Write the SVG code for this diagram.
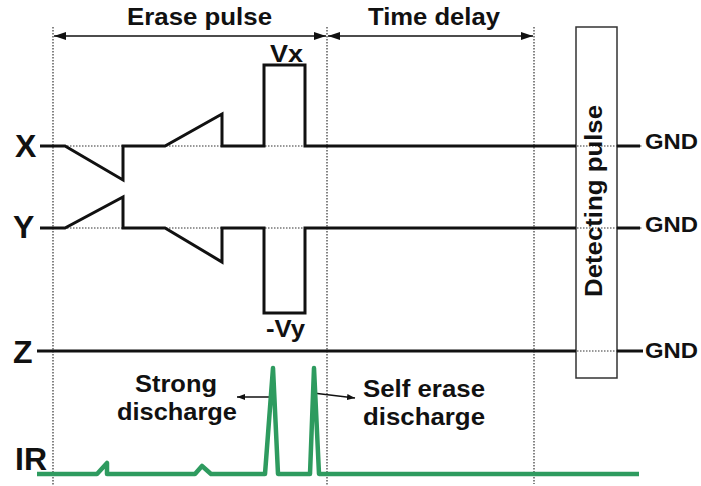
<svg xmlns="http://www.w3.org/2000/svg" width="701" height="486" viewBox="0 0 701 486">
<defs>
<style>
text{font-family:"Liberation Sans",Arial,sans-serif;font-weight:bold;fill:#111}
.big{font-size:32px}
.lab{font-size:24px}
.gnd{font-size:22px}
.dot{stroke:#333;stroke-width:1.2;stroke-dasharray:1.5 1.5;fill:none}
.wave{stroke:#111;stroke-width:3;fill:none;stroke-linejoin:miter}
.ir{stroke:#2e9b5f;stroke-width:4.5;fill:none;stroke-linejoin:round}
.arr{stroke:#111;stroke-width:1.6;fill:none}
</style>
<marker id="ah" viewBox="0 0 12 8" refX="12" refY="4" markerWidth="12" markerHeight="8" markerUnits="userSpaceOnUse" orient="auto-start-reverse">
<path d="M0,0 L12,4 L0,8 Z" fill="#111"/>
</marker>
<marker id="sh" viewBox="0 0 8 6" refX="8" refY="3" markerWidth="8" markerHeight="6" markerUnits="userSpaceOnUse" orient="auto">
<path d="M0,0 L8,3 L0,6 Z" fill="#111"/>
</marker>
</defs>
<rect width="701" height="486" fill="#fff"/>

<g id="guides">
<line class="dot" x1="53" y1="27" x2="53" y2="486"/>
<line class="dot" x1="327" y1="27" x2="327" y2="486"/>
<line class="dot" x1="534" y1="27" x2="534" y2="484"/>
<line class="dot" x1="40" y1="146" x2="642" y2="146"/>
<line class="dot" x1="40" y1="228" x2="642" y2="228"/>
<line class="dot" x1="37" y1="351" x2="643" y2="351"/>
</g>

<g id="detecting-pulse">
<rect x="576" y="27" width="41" height="351" fill="none" stroke="#333" stroke-width="1.5"/>
<text class="lab" transform="translate(602,201) rotate(-90)" text-anchor="middle" textLength="192" lengthAdjust="spacingAndGlyphs">Detecting pulse</text>
</g>

<g id="connectors">
<line class="arr" x1="54" y1="36" x2="326" y2="36" marker-start="url(#ah)" marker-end="url(#ah)"/>
<line class="arr" x1="328" y1="36" x2="533" y2="36" marker-start="url(#ah)" marker-end="url(#ah)"/>
<line class="arr" x1="273" y1="397" x2="237" y2="397" stroke-width="1.4" marker-end="url(#sh)"/>
<line class="arr" x1="313" y1="393" x2="355" y2="398" stroke-width="1.4" marker-end="url(#sh)"/>
</g>

<g id="labels">
<text class="lab" x="127" y="25" textLength="145" lengthAdjust="spacingAndGlyphs">Erase pulse</text>
<text class="lab" x="368" y="25" textLength="132" lengthAdjust="spacingAndGlyphs">Time delay</text>
<text class="lab" x="270" y="62" textLength="33" lengthAdjust="spacingAndGlyphs">Vx</text>
<text class="lab" x="266" y="337" textLength="39" lengthAdjust="spacingAndGlyphs">-Vy</text>
<text class="big" x="15" y="157">X</text>
<text class="big" x="13" y="238">Y</text>
<text class="big" x="13" y="363">Z</text>
<text class="big" x="15" y="470">IR</text>
<text class="gnd" x="645" y="149" textLength="53" lengthAdjust="spacingAndGlyphs">GND</text>
<text class="gnd" x="645" y="232" textLength="53" lengthAdjust="spacingAndGlyphs">GND</text>
<text class="gnd" x="645" y="358" textLength="53" lengthAdjust="spacingAndGlyphs">GND</text>
<text class="lab" x="176" y="392" text-anchor="middle" textLength="82" lengthAdjust="spacingAndGlyphs">Strong</text>
<text class="lab" x="177" y="420" text-anchor="middle" textLength="120" lengthAdjust="spacingAndGlyphs">discharge</text>
<text class="lab" x="363" y="397" textLength="122" lengthAdjust="spacingAndGlyphs">Self erase</text>
<text class="lab" x="363" y="425" textLength="122" lengthAdjust="spacingAndGlyphs">discharge</text>
</g>

<g id="wave-x">
<path class="wave" d="M40,146 H65 L123,180 V146 H165 L222,114 V146 H264 V65 H305 V146 H576"/>
<path class="wave" d="M617,146 H640"/>
</g>
<g id="wave-y">
<path class="wave" d="M40,228 H65 L123,197 V228 H165 L222,262 V228 H264 V313 H305 V228 H576"/>
<path class="wave" d="M617,228 H640"/>
</g>
<g id="wave-z">
<path class="wave" d="M37,351 H576"/>
<path class="wave" d="M617,351 H643"/>
</g>
<g id="wave-ir">
<path class="ir" d="M37,474 H97 L107,463 L107,474 H195 L202,466 L211,474 H265 L273,368 L278,474 H310 L314,368 L319,474 H639"/>
</g>
</svg>
